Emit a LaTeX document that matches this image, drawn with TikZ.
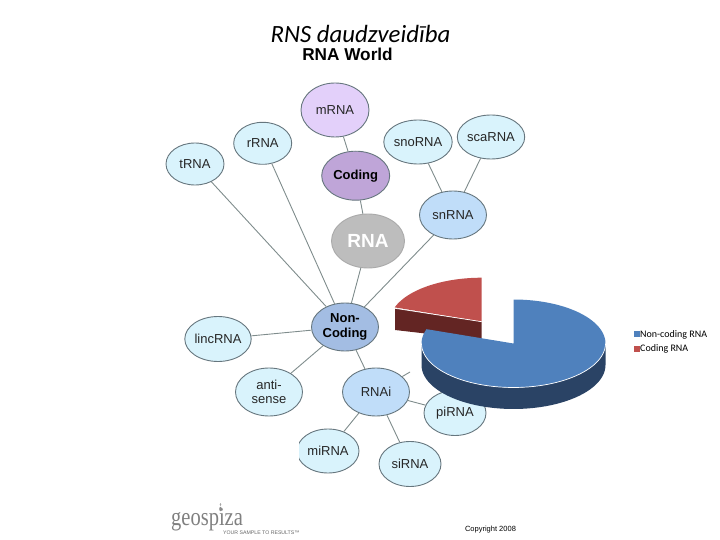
\documentclass[tikz,border=0pt]{standalone}
\usepackage{fontspec}
\setmainfont{Liberation Sans}
\newfontfamily\carl{Carlito}
\newfontfamily\logofont{Liberation Serif}
\usetikzlibrary{shapes.geometric}
\definecolor{lightn}{HTML}{D9F3FC}
\definecolor{midn}{HTML}{C0DDF9}
\definecolor{purpL}{HTML}{E3D0FA}
\definecolor{purpD}{HTML}{BFA5D8}
\definecolor{greyN}{HTML}{BDBDBD}
\definecolor{greyE}{HTML}{AAAAAA}
\definecolor{nonN}{HTML}{A3BDE3}
\definecolor{edgeg}{HTML}{66767E}
\definecolor{lineg}{HTML}{7F8C8C}
\definecolor{blueT}{HTML}{4F81BD}
\definecolor{blueS}{HTML}{2A4365}
\definecolor{redT}{HTML}{C0504D}
\definecolor{redS}{HTML}{632523}
\tikzset{
 rn/.style={ellipse,draw=edgeg,line width=0.9pt,fill=lightn,inner sep=0pt,align=center,font=\fontsize{13}{14.5}\selectfont,text=black!85},
 bold/.style={font=\fontsize{13}{15}\selectfont\bfseries,text=black},
 conn/.style={draw=lineg,line width=0.9pt},
 rim/.style={draw=white,line width=0.7pt},
 lab/.style={inner sep=0pt,anchor=west,font=\carl\fontsize{10}{11}\selectfont}
}
\begin{document}
\begin{tikzpicture}[x=1pt,y=-1pt]
\useasboundingbox (0,0) rectangle (720,540);
\node[inner sep=0pt,font=\carl\itshape\fontsize{24.8}{26}\selectfont] (title) at (360.5,33.5) {RNS daudzveidība};
\node[inner sep=0pt,font=\fontsize{17.2}{19}\selectfont\bfseries] (world) at (347.5,54.5) {RNA World};

\node[rn,minimum width=68pt,minimum height=54pt,fill=purpL] (m) at (335,110) {mRNA};
\node[rn,minimum width=58pt,minimum height=42pt] (r) at (262.7,143.3) {rRNA};
\node[rn,minimum width=58pt,minimum height=42pt] (t) at (195,164) {tRNA};
\node[rn,bold,minimum width=68pt,minimum height=49pt,fill=purpD] (cod) at (355.7,175.7) {Coding};
\node[rn,minimum width=62pt,minimum height=44pt] (sno) at (418,142) {snoRNA};
\node[rn,minimum width=62pt,minimum height=44pt] (sca) at (491,137) {scaRNA};
\node[rn,minimum width=67pt,minimum height=48pt,fill=midn] (sn) at (453,215) {snRNA};
\node[rn,minimum width=73pt,minimum height=54pt,fill=greyN,draw=greyE,text=white,font=\fontsize{19}{21}\selectfont\bfseries] (rna) at (368,241) {RNA};
\node[rn,bold,minimum width=67pt,minimum height=48pt,fill=nonN] (non) at (345,327) {Non-\\Coding};
\node[rn,minimum width=62pt,minimum height=45pt] (linc) at (218,339) {lincRNA};
\node[rn,minimum width=67pt,minimum height=48pt] (anti) at (269,392) {anti-\\sense};
\node[rn,minimum width=67pt,minimum height=48pt,fill=midn] (rnai) at (376,392) {RNAi};
\node[rn,minimum width=62pt,minimum height=45pt] (pi) at (455,413) {piRNA};
\node[rn,minimum width=62pt,minimum height=44pt] (mi) at (328,451) {miRNA};
\node[rn,minimum width=62pt,minimum height=45pt] (si) at (410,464) {siRNA};
\coordinate (stub) at (410,372);
\fill[white] (290,425) rectangle (298.5,478);

\draw[conn] (m) -- (cod);
\draw[conn] (cod) -- (rna);
\draw[conn] (sno) -- (sn);
\draw[conn] (sca) -- (sn);
\draw[conn] (t) -- (non);
\draw[conn] (r) -- (non);
\draw[conn] (rna) -- (non);
\draw[conn] (sn) -- (non);
\draw[conn] (linc) -- (non);
\draw[conn] (anti) -- (non);
\draw[conn] (non) -- (rnai);
\draw[conn] (rnai) -- (pi);
\draw[conn] (rnai) -- (mi);
\draw[conn] (rnai) -- (si);
\draw[conn] (rnai) -- (stub);

% red slice
\fill[redS] (395,308.3) -- (481.7,321.7) -- (481.7,340) -- (395,330) -- cycle;
\fill[redT] (481.7,321.7) -- plot[domain=90:161,samples=30] ({481.7+92*cos(\x)},{321.7-44*sin(\x)}) -- cycle;
\draw[rim] (395,308.3) -- (481.7,321.7);
% blue slice
\fill[blueS] plot[domain=180:360,samples=50] ({513.5+92*cos(\x)},{343.5-44*sin(\x)}) -- plot[domain=360:180,samples=50] ({513.5+92*cos(\x)},{365-44*sin(\x)}) -- cycle;
\fill[blueT] (513.5,343.5) -- plot[domain=90:-199,samples=90] ({513.5+92*cos(\x)},{343.5-44*sin(\x)}) -- cycle;
\draw[rim] plot[domain=180:360,samples=50] ({513.5+92*cos(\x)},{343.5-44*sin(\x)});

\fill[blueT] (634,331) rectangle (640,337);
\fill[redT] (634,346) rectangle (640,352);
\node[lab] (l1) at (640,335) {Non-coding RNA};
\node[lab] (l2) at (640,349) {Coding RNA};

\node[inner sep=0pt,anchor=west,text=black!50,font=\logofont\fontsize{20.5}{22}\selectfont,yscale=1.25] (geo) at (171,520) {geospiza};
\fill[black!45] (220.5,509) ellipse (1.3 and 2.2);
\fill[black!35] (220.5,504.5) ellipse (0.9 and 1.4);
\node[inner sep=0pt,anchor=west,text=black!60,font=\fontsize{5.2}{6}\selectfont] (tag) at (223,532.5) {YOUR SAMPLE TO RESULTS™};
\node[inner sep=0pt,font=\fontsize{7.5}{9}\selectfont] (copy) at (490.5,530) {Copyright 2008};
\end{tikzpicture}
\end{document}
